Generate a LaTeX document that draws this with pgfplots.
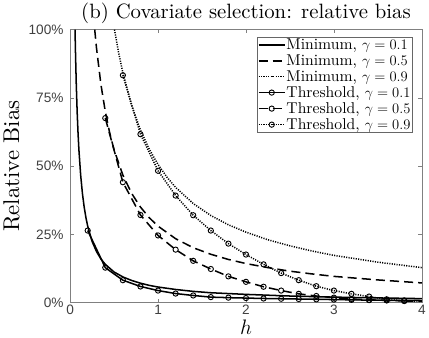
\documentclass[border=0pt]{standalone}
\usepackage{fontspec}
\setmainfont{lmroman10-regular.otf}[ItalicFont=lmroman10-italic.otf, BoldFont=lmroman10-bold.otf]
\usepackage{pgfplots}
\pgfplotsset{compat=1.18}
\newfontfamily\tickfont{Liberation Sans}

\begin{document}
\begin{tikzpicture}
\begin{axis}[
    scale only axis,
    width=348pt, height=270pt,
    xmin=0, xmax=4, ymin=0, ymax=100,
    xtick={0,1,2,3,4}, xticklabels={0,1,2,3,4},
    ytick={0,25,50,75,100},
    yticklabels={0\%,25\%,50\%,75\%,100\%},
    tick align=inside, major tick length=3.5pt,
    axis line style={black!50, line width=0.6pt},
    tick style={black!50, line width=0.6pt},
    ticklabel style={font=\tickfont\fontsize{13.5}{14}\selectfont, text=black!75},
    yticklabel style={xshift=-3pt},
    xticklabel style={yshift=1pt},
    title={(b) Covariate selection: relative bias},
    title style={font=\fontsize{20.5}{22}\selectfont, yshift=-4pt},
    xlabel={$h$}, ylabel={Relative Bias},
    label style={font=\fontsize{20.74}{22}\selectfont},
    xlabel style={yshift=2pt},
    ylabel style={font=\fontsize{22.5}{24}\selectfont, yshift=2pt},
    legend style={at={(0.972,0.972)}, anchor=north east, draw=black!60,
        font=\fontsize{15.5}{17}\selectfont, inner sep=0.5pt,
        nodes={inner sep=0.8pt}, row sep=2pt, cells={anchor=west}},
    legend image code/.code={\draw[mark repeat=2,mark phase=2]
        plot coordinates {(0pt,0pt)(13pt,0pt)(26pt,0pt)};},
    mark options={solid, line width=0.9pt},
    mark size=2.6pt,
]
% minimum
\addplot[black, line width=1.5pt, solid] coordinates {
    (0.056,100)(0.06,93.3)(0.07,80)(0.08,70)(0.09,62.2)(0.1,56)(0.12,46.7)
    (0.14,40)(0.16,35)(0.18,31.1)(0.2,28)(0.25,22.4)(0.3,18.7)(0.35,16)
    (0.4,14)(0.5,11.2)(0.6,9.4)(0.7,8.1)(0.8,7.1)(0.9,6.3)(1.0,5.7)(1.2,4.8)
    (1.4,4.1)(1.6,3.6)(1.8,3.3)(2.0,3.0)(2.5,2.4)(3.0,2.0)(3.5,1.7)(4.0,1.45)};
\addlegendentry{Minimum, $\gamma=0.1$}
\addplot[black, line width=1.5pt, dash pattern=on 9pt off 5pt] coordinates {
    (0.28,100)(0.3,93.3)(0.35,80)(0.4,70)(0.45,62.2)(0.5,56)(0.6,46.7)(0.7,40)
    (0.8,35)(0.9,31.1)(1.0,28)(1.2,23.4)(1.4,20.1)(1.6,17.7)(1.8,15.8)(2.0,14.3)
    (2.25,12.8)(2.5,11.5)(2.75,10.5)(3.0,9.6)(3.5,8.3)(4.0,7.2)};
\addlegendentry{Minimum, $\gamma=0.5$}
\addplot[black, line width=1.5pt, dash pattern=on 1.1pt off 1.3pt] coordinates {
    (0.505,100)(0.55,91.8)(0.6,84.2)(0.7,72.2)(0.8,63.2)(0.9,56.2)(1.0,50.6)
    (1.1,46)(1.2,42.2)(1.4,36.3)(1.6,31.9)(1.8,28.5)(2.0,25.8)(2.25,23)
    (2.5,20.8)(2.75,18.9)(3.0,17.3)(3.5,14.8)(4.0,12.8)};
\addlegendentry{Minimum, $\gamma=0.9$}
% threshold
\addplot[black, line width=1.5pt, solid, mark=o] coordinates {
    (0.2,26.4)(0.4,12.8)(0.6,8.2)(0.8,5.9)(1.0,4.4)(1.2,3.3)(1.4,2.6)(1.6,2.0)
    (1.8,1.8)(2.0,1.65)(2.2,1.5)(2.4,1.4)(2.6,1.3)(2.8,1.2)(3.0,1.1)(3.2,1.0)
    (3.4,0.9)(3.6,0.85)(3.8,0.8)};
\addlegendentry{Threshold, $\gamma=0.1$}
\addplot[black, line width=1.5pt, dash pattern=on 9pt off 5pt, mark=o] coordinates {
    (0.4,67.6)(0.6,44.1)(0.8,32.1)(1.0,24.6)(1.2,19.4)(1.4,15.3)(1.6,12.3)
    (1.8,9.6)(2.0,7.6)(2.2,5.8)(2.4,4.4)(2.6,3.2)(2.8,2.4)(3.0,1.8)(3.2,1.3)
    (3.4,1.0)(3.6,0.8)(3.8,0.6)};
\addlegendentry{Threshold, $\gamma=0.5$}
\addplot[black, line width=1.5pt, dash pattern=on 1.1pt off 1.3pt, mark=o] coordinates {
    (0.6,83.3)(0.8,61.7)(1.0,48.3)(1.2,39.2)(1.4,32.0)(1.6,26.4)(1.8,21.6)
    (2.0,17.6)(2.2,14.0)(2.4,10.8)(2.6,8.2)(2.8,6.0)(3.0,4.4)(3.2,3.2)
    (3.4,2.2)(3.6,1.2)(3.8,0.6)};
\addlegendentry{Threshold, $\gamma=0.9$}
% last segments, no marker at h=4
\addplot[black, line width=1.5pt, solid, forget plot] coordinates {(3.8,0.8)(4.0,0.75)};
\addplot[black, line width=1.5pt, dash pattern=on 9pt off 5pt, forget plot] coordinates {(3.8,0.6)(4.0,0.5)};
\addplot[black, line width=1.5pt, dash pattern=on 1.1pt off 1.3pt, forget plot] coordinates {(3.8,0.6)(4.0,0.4)};
\end{axis}
\end{tikzpicture}
\end{document}
